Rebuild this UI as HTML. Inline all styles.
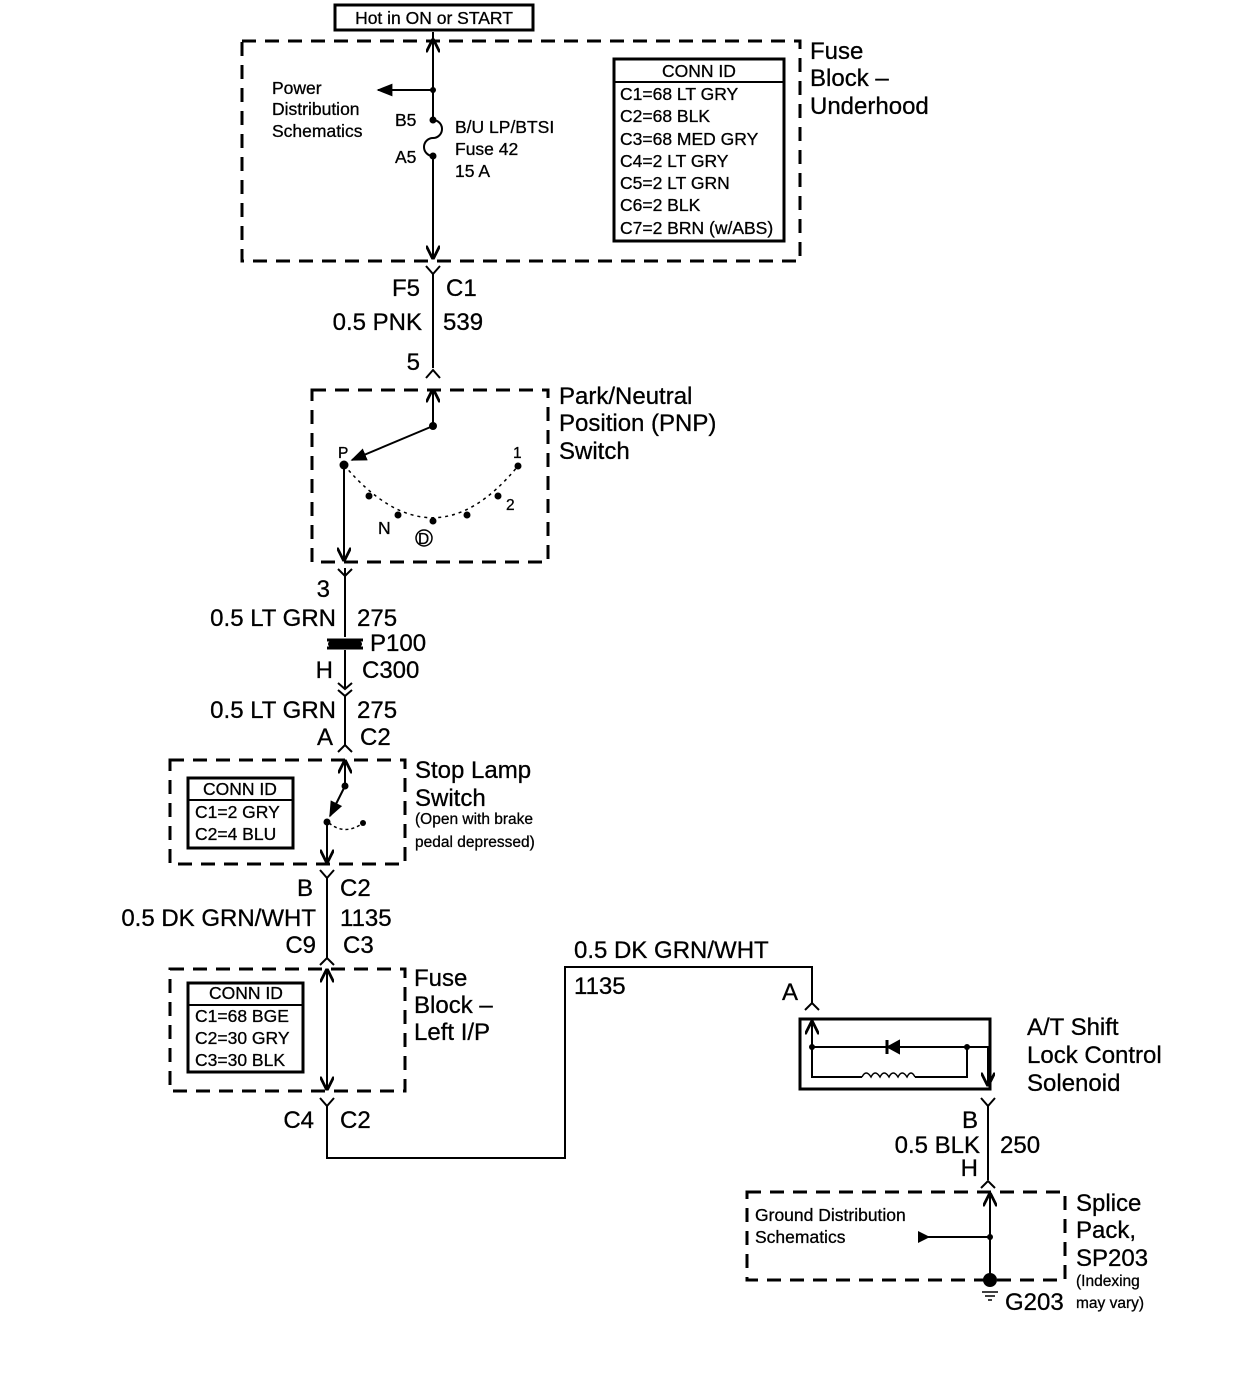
<!DOCTYPE html>
<html><head><meta charset="utf-8"><style>
html,body{margin:0;padding:0;background:#fff;}
svg{display:block;}
text{font-family:"Liberation Sans",Arial,sans-serif;fill:#000;stroke:#000;stroke-width:0.3;}
.L{font-size:24px;}
.M{font-size:17.5px;}
.S{font-size:15.5px;}
</style></head><body>
<svg width="1256" height="1392" viewBox="0 0 1256 1392" xmlns="http://www.w3.org/2000/svg">
<defs>
<marker id="ah" viewBox="0 0 10 10" refX="9" refY="5" markerWidth="7" markerHeight="7" orient="auto-start-reverse"><path d="M0,0 L10,5 L0,10" fill="none" stroke="#000" stroke-width="2"/></marker>
<marker id="af" viewBox="0 0 10 10" refX="9" refY="5" markerWidth="8" markerHeight="8" orient="auto"><path d="M0,1 L10,5 L0,9 z" fill="#000"/></marker>
</defs>
<g fill="none" stroke="#000" stroke-width="2">
<rect x="335" y="5" width="198" height="25" stroke-width="3"/>
<rect x="242" y="41" width="558" height="220" stroke-width="3" stroke-dasharray="14,9"/>
<rect x="614" y="59" width="170" height="182" stroke-width="3"/>
<line x1="614" y1="82" x2="784" y2="82"/>
<line x1="433" y1="32" x2="433" y2="120"/>
<path d="M433,120 a9,9 0 0 1 0,18 a9,9 0 0 0 0,18"/>
<line x1="433" y1="156" x2="433" y2="258" marker-end="url(#ah)"/>
<line x1="433" y1="40" x2="433" y2="41" marker-start="url(#ah)"/>
<line x1="433" y1="90" x2="378" y2="90" marker-end="url(#af)"/>
<path d="M426,266 L433,274 L440,266 M433,274 L433,368 M426,378 L433,370 L440,378"/>
<rect x="312" y="390" width="236" height="172" stroke-width="3" stroke-dasharray="14,9"/>
<line x1="433" y1="426" x2="433" y2="390" marker-end="url(#ah)"/>
<line x1="433" y1="426" x2="352" y2="460" marker-end="url(#af)"/>
<line x1="344" y1="465" x2="344" y2="560" marker-end="url(#ah)"/>
<path d="M344,465 Q433,570 518,466" stroke-dasharray="3,4" stroke-width="1.5"/>
<circle cx="424" cy="538" r="8" stroke-width="1.5"/>
<path d="M345,568 L345,576 M338,569 L345,576 L352,569 M345,576 L345,637 M345,650 L345,688"/>
<path d="M327,640 L363,640 M327,648 L363,648" stroke-width="3"/>
<path d="M331,644 L359,644" stroke-width="6" stroke-linecap="round"/>
<path d="M338,683 L345,689 L352,683 M338,690 L345,696 L352,690 M345,696 L345,745 M338,752 L345,745 L352,752"/>
<rect x="170" y="760" width="235" height="104" stroke-width="3" stroke-dasharray="14,9"/>
<rect x="188" y="778" width="105" height="70" stroke-width="3"/>
<line x1="188" y1="800" x2="293" y2="800"/>
<line x1="345" y1="786" x2="345" y2="761" marker-end="url(#ah)"/>
<line x1="345" y1="786" x2="330" y2="816" marker-end="url(#af)"/>
<line x1="327" y1="822" x2="327" y2="862" marker-end="url(#ah)"/>
<path d="M329,823 Q345,836 363,823" stroke-dasharray="3,3" stroke-width="1.5"/>
<path d="M320,870 L327,878 L334,870 M327,878 L327,958 M320,965 L327,958 L334,965"/>
<rect x="170" y="969" width="235" height="122" stroke-width="3" stroke-dasharray="14,9"/>
<rect x="188" y="983" width="115" height="89" stroke-width="3"/>
<line x1="188" y1="1005" x2="303" y2="1005"/>
<line x1="327" y1="1089" x2="327" y2="970" marker-end="url(#ah)"/>
<line x1="327" y1="970" x2="327" y2="1089" marker-end="url(#ah)"/>
<path d="M320,1098 L327,1106 L334,1098 M327,1106 L327,1158 L565,1158 L565,967 L812,967 L812,1003 M805,1010 L812,1003 L819,1010"/>
<rect x="800" y="1019" width="190" height="70" stroke-width="3"/>
<line x1="812" y1="1078" x2="812" y2="1022" marker-end="url(#ah)"/>
<path d="M812,1047 L967,1047 L988,1047 L988,1085 M967,1047 L967,1077 L915,1077 M862,1077 L812,1077 L812,1047"/>
<path d="M988,1072 L988,1085" marker-end="url(#ah)"/>
<path d="M862,1077 q4,-8 9,0 q4,-8 9,0 q4,-8 9,0 q4,-8 9,0 q4,-8 9,0 q4,-8 8,0" stroke-width="1.5"/>
<path d="M899,1041 L888,1047 L899,1053 z" fill="#000"/>
<line x1="887" y1="1040" x2="887" y2="1054" stroke-width="3"/>
<path d="M981,1098 L988,1106 L995,1098 M988,1106 L988,1180 M981,1188 L988,1181 L995,1188"/>
<rect x="747" y="1192" width="318" height="88" stroke-width="3" stroke-dasharray="14,9"/>
<line x1="990" y1="1280" x2="990" y2="1194" marker-end="url(#ah)"/>
<line x1="990" y1="1237" x2="922" y2="1237"/>
<path d="M982,1292 L998,1292 M985,1296 L995,1296 M988,1300 L992,1300" stroke-width="1.5"/>
</g>
<g fill="#000">
<circle cx="433" cy="90" r="3"/><circle cx="433" cy="120" r="3.5"/><circle cx="433" cy="156" r="3.5"/>
<circle cx="433" cy="426" r="4"/><circle cx="344" cy="465" r="4.5"/>
<circle cx="369" cy="496" r="3.5"/><circle cx="398" cy="515" r="3.5"/><circle cx="433" cy="521" r="3.5"/><circle cx="467" cy="515" r="3.5"/><circle cx="498" cy="496" r="3.5"/><circle cx="518" cy="466" r="3.5"/>
<circle cx="345" cy="786" r="3.5"/><circle cx="327" cy="822" r="3.5"/><circle cx="363" cy="823" r="3"/>
<circle cx="812" cy="1047" r="3"/><circle cx="967" cy="1047" r="3"/>
<circle cx="990" cy="1237" r="3"/><circle cx="990" cy="1280" r="7"/>
<path d="M918,1231 L930,1237 L918,1243 z"/>
</g>
<text x="434" y="24" class="M" text-anchor="middle">Hot in ON or START</text>
<text x="810" y="59" class="L">Fuse</text><text x="810" y="86" class="L">Block –</text><text x="810" y="114" class="L">Underhood</text>
<text x="272" y="94" class="M">Power</text><text x="272" y="115" class="M">Distribution</text><text x="272" y="137" class="M">Schematics</text>
<text x="395" y="126" class="M">B5</text><text x="395" y="163" class="M">A5</text>
<text x="455" y="133" class="M">B/U LP/BTSI</text><text x="455" y="155" class="M">Fuse 42</text><text x="455" y="177" class="M">15 A</text>
<text x="699" y="77" class="M" text-anchor="middle">CONN ID</text>
<text x="620" y="100" class="M">C1=68 LT GRY</text><text x="620" y="122" class="M">C2=68 BLK</text><text x="620" y="145" class="M">C3=68 MED GRY</text><text x="620" y="167" class="M">C4=2 LT GRY</text><text x="620" y="189" class="M">C5=2 LT GRN</text><text x="620" y="211" class="M">C6=2 BLK</text><text x="620" y="234" class="M">C7=2 BRN (w/ABS)</text>
<text x="420" y="296" class="L" text-anchor="end">F5</text><text x="446" y="296" class="L">C1</text>
<text x="422" y="330" class="L" text-anchor="end">0.5 PNK</text><text x="443" y="330" class="L">539</text>
<text x="420" y="370" class="L" text-anchor="end">5</text>
<text x="559" y="404" class="L">Park/Neutral</text><text x="559" y="431" class="L">Position (PNP)</text><text x="559" y="459" class="L">Switch</text>
<text x="338" y="458" class="S">P</text><text x="513" y="458" class="S">1</text><text x="506" y="510" class="S">2</text><text x="378" y="534" class="M">N</text><text x="418" y="544" class="S">D</text>
<text x="330" y="597" class="L" text-anchor="end">3</text>
<text x="336" y="626" class="L" text-anchor="end">0.5 LT GRN</text><text x="357" y="626" class="L">275</text>
<text x="370" y="651" class="L">P100</text>
<text x="333" y="678" class="L" text-anchor="end">H</text><text x="362" y="678" class="L">C300</text>
<text x="336" y="718" class="L" text-anchor="end">0.5 LT GRN</text><text x="357" y="718" class="L">275</text>
<text x="333" y="745" class="L" text-anchor="end">A</text><text x="360" y="745" class="L">C2</text>
<text x="415" y="778" class="L">Stop Lamp</text><text x="415" y="806" class="L">Switch</text>
<text x="415" y="824" class="S">(Open with brake</text><text x="415" y="847" class="S">pedal depressed)</text>
<text x="240" y="795" class="M" text-anchor="middle">CONN ID</text>
<text x="195" y="818" class="M">C1=2 GRY</text><text x="195" y="840" class="M">C2=4 BLU</text>
<text x="313" y="896" class="L" text-anchor="end">B</text><text x="340" y="896" class="L">C2</text>
<text x="316" y="926" class="L" text-anchor="end">0.5 DK GRN/WHT</text><text x="340" y="926" class="L">1135</text>
<text x="316" y="953" class="L" text-anchor="end">C9</text><text x="343" y="953" class="L">C3</text>
<text x="414" y="986" class="L">Fuse</text><text x="414" y="1013" class="L">Block –</text><text x="414" y="1040" class="L">Left I/P</text>
<text x="246" y="999" class="M" text-anchor="middle">CONN ID</text>
<text x="195" y="1022" class="M">C1=68 BGE</text><text x="195" y="1044" class="M">C2=30 GRY</text><text x="195" y="1066" class="M">C3=30 BLK</text>
<text x="314" y="1128" class="L" text-anchor="end">C4</text><text x="340" y="1128" class="L">C2</text>
<text x="574" y="958" class="L">0.5 DK GRN/WHT</text><text x="574" y="994" class="L">1135</text>
<text x="798" y="1000" class="L" text-anchor="end">A</text>
<text x="1027" y="1035" class="L">A/T Shift</text><text x="1027" y="1063" class="L">Lock Control</text><text x="1027" y="1091" class="L">Solenoid</text>
<text x="978" y="1128" class="L" text-anchor="end">B</text>
<text x="980" y="1153" class="L" text-anchor="end">0.5 BLK</text><text x="1000" y="1153" class="L">250</text>
<text x="978" y="1176" class="L" text-anchor="end">H</text>
<text x="755" y="1221" class="M">Ground Distribution</text><text x="755" y="1243" class="M">Schematics</text>
<text x="1076" y="1211" class="L">Splice</text><text x="1076" y="1238" class="L">Pack,</text><text x="1076" y="1266" class="L">SP203</text>
<text x="1076" y="1286" class="S">(Indexing</text><text x="1076" y="1308" class="S">may vary)</text>
<text x="1005" y="1310" class="L">G203</text>
</svg>
</body></html>
